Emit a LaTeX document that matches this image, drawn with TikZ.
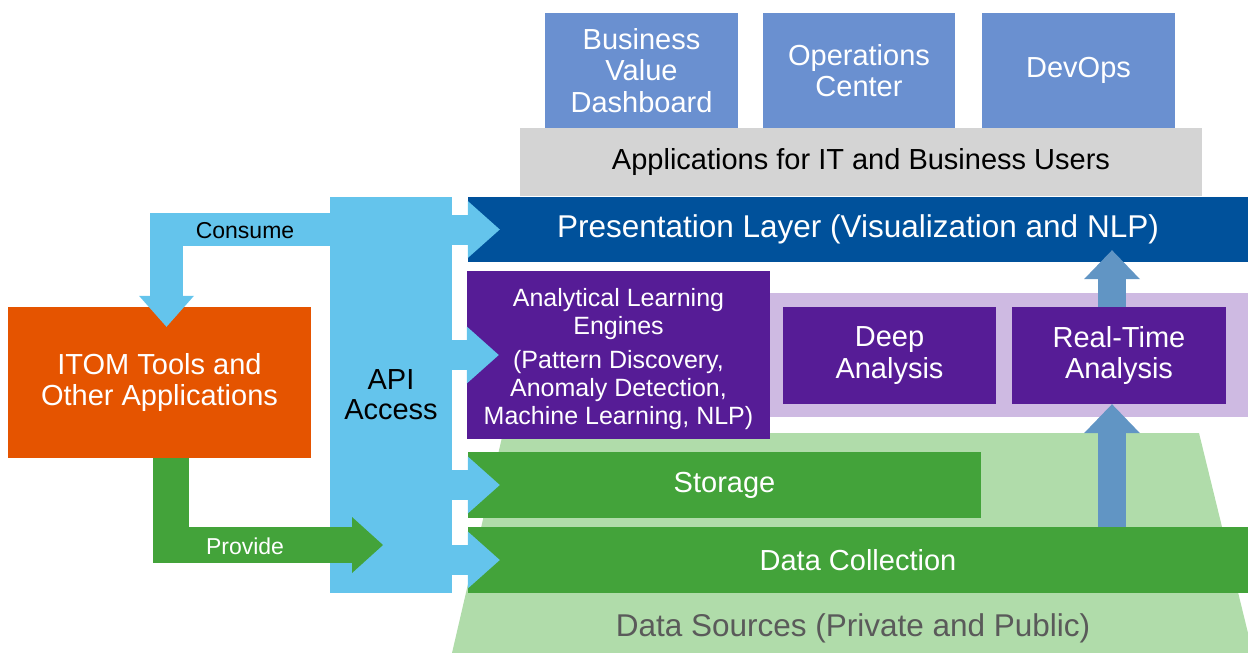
\documentclass[tikz,border=0pt]{standalone}
\usepackage{fontspec}
\setmainfont{Liberation Sans}
\usepackage{tikz}
\usetikzlibrary{arrows.meta,calc}
\usepackage{xcolor}
\definecolor{appblue}{RGB}{106,144,208}
\definecolor{appgrey}{RGB}{212,212,212}
\definecolor{presblue}{RGB}{0,81,155}
\definecolor{engpurple}{RGB}{86,28,150}
\definecolor{bandpurple}{RGB}{206,186,226}
\definecolor{datagreen}{RGB}{67,163,58}
\definecolor{srcgreen}{RGB}{176,220,170}
\definecolor{apiblue}{RGB}{100,196,236}
\definecolor{itomorange}{RGB}{229,84,0}
\definecolor{flowblue}{RGB}{97,149,196}
\definecolor{srcgrey}{RGB}{90,90,90}
\tikzstyle{layerbox} = [inner sep=0pt, align=center, text=white, font=\fontsize{29}{31.5}\selectfont]
\tikzstyle{apiarrow} = [line width=30pt, -{Triangle[length=32pt,width=57pt,line width=0pt]}, color=apiblue]
\tikzstyle{flowarrow} = [line width=28pt, -{Triangle[length=29pt,width=56pt,line width=0pt]}, color=flowblue]

\begin{document}
\begin{tikzpicture}[x=1pt, y=-1pt]
\useasboundingbox (0,0) rectangle (1248,653);
% Data sources and analysis band behind
\fill[srcgreen] (503,433) -- (1199,433) -- (1248,633) -- (1248,653) -- (452,653) -- cycle;
\node[text=srcgrey, font=\fontsize{31.5}{33}\selectfont] (sources) at (853,628) {Data Sources (Private and Public)};
\fill[bandpurple] (770,293) rectangle (1248,417);

% Applications
\node[layerbox, fill=appblue, minimum width=193pt, minimum height=115pt] (bvd) at (641.5,70.5) {Business\\Value\\Dashboard};
\node[layerbox, fill=appblue, minimum width=192pt, minimum height=115pt] (opc) at (859,70.5) {Operations\\Center};
\node[layerbox, fill=appblue, minimum width=193pt, minimum height=115pt] (devops) at (1078.5,70.5) {DevOps};
\node[layerbox, fill=appgrey, text=black, minimum width=682pt, minimum height=68pt] (apps) at (861,162) {Applications for IT and Business Users};

% Layers
\node[layerbox, fill=presblue, minimum width=780pt, minimum height=65pt, font=\fontsize{31.5}{33}\selectfont] (pres) at (858,229.5) {Presentation Layer (Visualization and NLP)};
\node[layerbox, fill=engpurple, minimum width=303pt, minimum height=168pt, font=\fontsize{25}{28}\selectfont] (engines) at (618.5,355) {\rule{0pt}{27pt}Analytical Learning\\Engines\\[6pt](Pattern Discovery,\\Anomaly Detection,\\Machine Learning, NLP)};
\node[layerbox, fill=engpurple, minimum width=213pt, minimum height=97pt] (deep) at (889.5,355.5) {Deep\\Analysis};
\node[layerbox, fill=engpurple, minimum width=214pt, minimum height=97pt] (realtime) at (1119,355.5) {Real-Time\\Analysis};
\node[layerbox, fill=datagreen, minimum width=513pt, minimum height=66pt] (storage) at (724.5,485) {Storage};
\node[layerbox, fill=datagreen, minimum width=780pt, minimum height=66pt] (collect) at (858,560) {Data Collection};

% API and tools
\node[layerbox, fill=apiblue, text=black, minimum width=122pt, minimum height=396pt, font=\fontsize{29}{30}\selectfont] (api) at (391,395) {API\\Access};
\node[layerbox, fill=itomorange, minimum width=303pt, minimum height=151pt] (itom) at (159.5,382.5) {ITOM Tools and\\Other Applications};

% Arrows out of API
\draw[apiarrow, line width=33pt, -{Triangle[length=31pt,width=55pt,line width=0pt]}] (api.west |- pres.west) -| ($(itom.north)+(7,20)$);
\node[font=\fontsize{23}{25}\selectfont] (consume) at (245,231) {Consume};
\foreach \layer in {pres,engines,storage,collect}
  \draw[apiarrow] (api.east |- \layer.west) -- ($(\layer.west)+(32,0)$);

% Provide
\coordinate (provideend) at (383,545);
\draw[datagreen, line width=36pt, -{Triangle[length=31pt,width=56pt,line width=0pt]}] ($(itom.south)+(11.5,0)$) |- (provideend);
\node[text=white, font=\fontsize{23}{25}\selectfont] (provide) at (245,546) {Provide};

% Flow up to presentation
\draw[flowarrow] ($(realtime.south |- collect.north)+(-7,0)$) -- ($(realtime.south)+(-7,0)$);
\draw[flowarrow] ($(realtime.north)+(-7,0)$) -- ($(realtime.north |- pres.south)+(-7,-12)$);
\end{tikzpicture}
\end{document}
